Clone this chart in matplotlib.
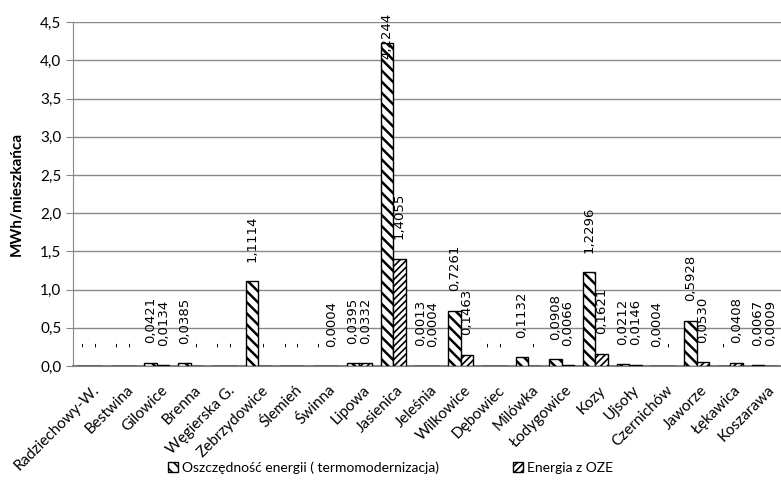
import matplotlib.pyplot as plt
import matplotlib.patches as mpatches
import matplotlib.transforms as mtransforms
import numpy as np

gminy = ["Radziechowy-W.", "Bestwina", "Gilowice", "Brenna", "Węgierska G.",
         "Zebrzydowice", "Ślemień", "Świnna", "Lipowa", "Jasienica", "Jeleśnia",
         "Wilkowice", "Dębowiec", "Milówka", "Łodygowice", "Kozy", "Ujsoły",
         "Czernichów", "Jaworze", "Łękawica", "Koszarawa"]

# MWh per inhabitant
oszczednosc = [0.0, 0.0, 0.0421, 0.0385, 0.0, 1.1114, 0.0, 0.0, 0.0395, 4.2244,
               0.0013, 0.7261, 0.0, 0.1132, 0.0908, 1.2296, 0.0212, 0.0004,
               0.5928, 0.0, 0.0067]
oze = [0.0, 0.0, 0.0134, 0.0, 0.0, 0.0, 0.0, 0.0004, 0.0332, 1.4055,
       0.0004, 0.1463, 0.0, 0.0, 0.0066, 0.1621, 0.0146, 0.0,
       0.0530, 0.0408, 0.0009]

y_ticks = np.arange(0, 4.51, 0.5)

fig = plt.figure(figsize=(7.81, 4.8), dpi=100)
ax = fig.add_axes([0.093, 0.2375, 0.907, 0.7165])

x = np.arange(len(gminy))
w = 0.37

plt.rcParams["hatch.linewidth"] = 1.8
b1 = ax.bar(x - w / 2, oszczednosc, w, color="white", edgecolor="black",
            hatch="\\\\\\", linewidth=1.0, zorder=3)
plt.rcParams["hatch.linewidth"] = 1.2
b2 = ax.bar(x + w / 2, oze, w, color="white", edgecolor="black",
            hatch="/////", linewidth=1.0, zorder=3)


def fmt(v):
    if v == 0:
        return "-"
    return f"{v:.4f}".replace(".", ",")


def label_bars(xs, vals):
    for xi, v in zip(xs, vals):
        if v > 4.0:
            # label does not fit above the bar, pushed to top of the figure
            ax.annotate(fmt(v), (xi, 1.0), xycoords=("data", "axes fraction"),
                        xytext=(0, 7), textcoords="offset points",
                        rotation=90, ha="center", va="top", fontsize=9.5,
                        family="DejaVu Sans", annotation_clip=False, zorder=5)
        else:
            ax.annotate(fmt(v), (xi, v), xytext=(0, 14),
                        textcoords="offset points", rotation=90,
                        ha="center", va="bottom", fontsize=9.5,
                        family="DejaVu Sans", zorder=5)


label_bars(x - w / 2, oszczednosc)
label_bars(x + w / 2, oze)

ax.set_xlim(-0.5, len(gminy) - 0.5)
ax.set_ylim(0, 4.5)
ax.set_yticks(y_ticks)
ax.set_yticklabels([f"{t:.1f}".replace(".", ",") for t in y_ticks],
                   family="Lato", fontsize=11)
ax.set_xticks(x)
ax.set_xticklabels([])
ax.tick_params(axis="x", length=0)
ax.tick_params(axis="y", length=5, color="#888888", pad=3)

# category names, drawn by hand to place them like the original
shift = mtransforms.ScaledTranslation(8 / 100, -22 / 100, fig.dpi_scale_trans)
for xi, name in zip(x, gminy):
    ax.text(xi, 0, name, transform=ax.get_xaxis_transform() + shift,
            rotation=45, ha="right", va="center", rotation_mode="anchor",
            family="Lato", fontsize=11)

ax.set_ylabel("MWh/mieszkańca", family="Lato", fontweight="bold", fontsize=11,
              labelpad=12)

ax.grid(axis="y", color="#888888", linewidth=1.0, zorder=0)
ax.set_axisbelow(True)
for s in ["top", "right"]:
    ax.spines[s].set_visible(False)
ax.spines["left"].set_color("#888888")
ax.spines["bottom"].set_color("#808080")
ax.spines["bottom"].set_linewidth(1.5)

h1 = mpatches.Patch(facecolor="white", edgecolor="black", hatch="\\\\\\",
                    label="Oszczędność energii ( termomodernizacja)")
h2 = mpatches.Patch(facecolor="white", edgecolor="black", hatch="/////",
                    label="Energia z OZE")
fig.legend(handles=[h1, h2], loc="center", bbox_to_anchor=(0.5, 0.026),
           ncol=2, frameon=False, columnspacing=5.3, handlelength=0.7,
           handleheight=0.7, handletextpad=0.3,
           prop={"family": "Lato", "size": 10})

fig.savefig("out.png", dpi=100)
